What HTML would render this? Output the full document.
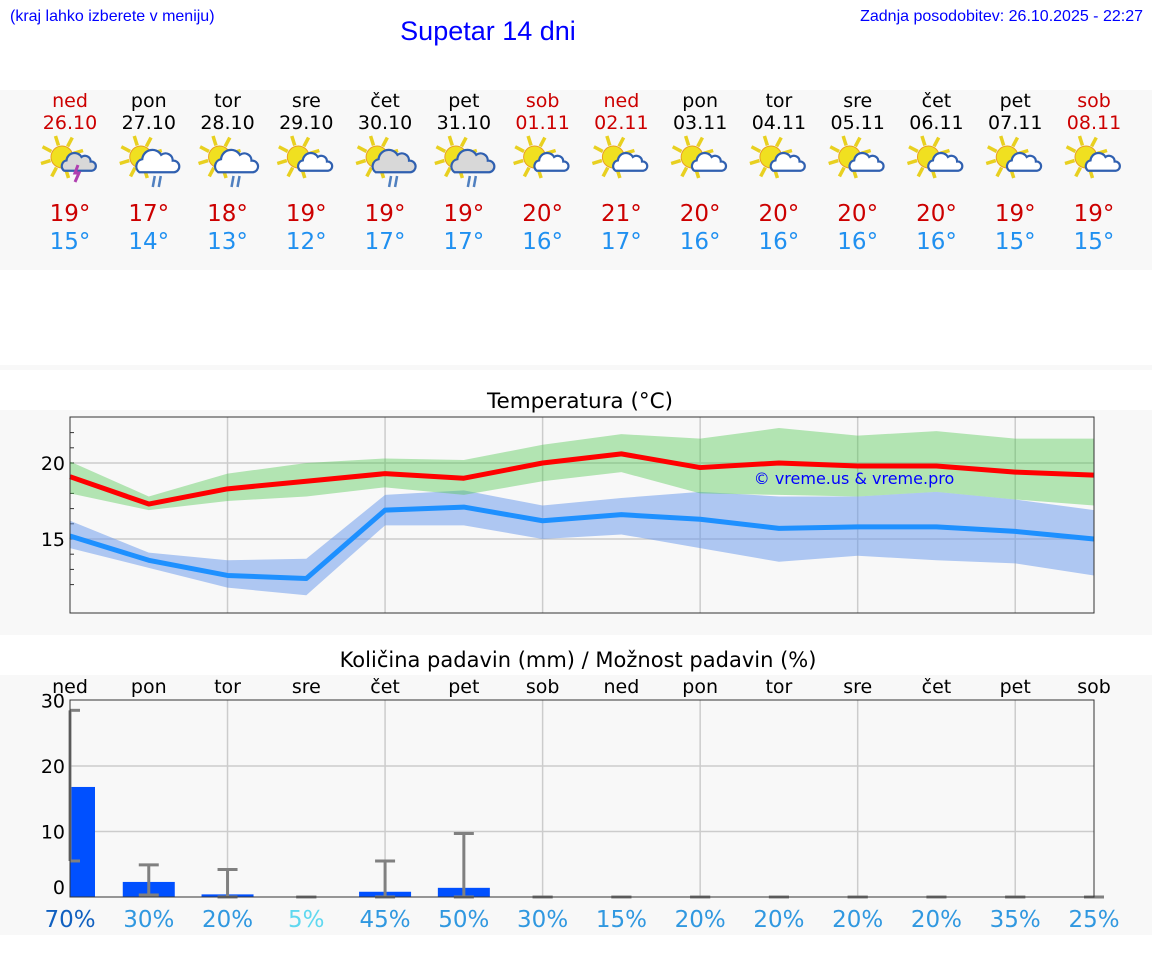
<!DOCTYPE html>
<html><head><meta charset="utf-8"><style>
body{margin:0;background:#fff;width:1152px;height:975px;overflow:hidden;font-family:"DejaVu Sans","Liberation Sans",sans-serif}
svg{position:absolute;left:0;top:0}
</style></head><body>
<svg id="s" width="1152" height="975" xmlns="http://www.w3.org/2000/svg">
<text x="10" y="21" font-size="16" fill="#0000ff" font-family="Liberation Sans">(kraj lahko izberete v meniju)</text>
<text x="488" y="40" font-size="27" fill="#0000ff" text-anchor="middle" font-family="Liberation Sans">Supetar 14 dni</text>
<text x="1143" y="21" font-size="16" fill="#0000ff" text-anchor="end" font-family="Liberation Sans">Zadnja posodobitev: 26.10.2025 - 22:27</text>
<rect x="0" y="90" width="1152" height="180" fill="#f8f8f8"/>
<rect x="0" y="365" width="1152" height="5" fill="#f8f8f8"/>
<rect x="0" y="410" width="1152" height="225" fill="#f8f8f8"/>
<rect x="0" y="675" width="1152" height="260" fill="#f8f8f8"/>
<text x="580" y="408" font-size="21.5" text-anchor="middle" fill="#000">Temperatura (°C)</text>
<text x="578" y="667" font-size="21" text-anchor="middle" fill="#000">Količina padavin (mm) / Možnost padavin (%)</text>
<g id="g"></g>
</svg>
<script>
const days=["ned","pon","tor","sre","čet","pet","sob","ned","pon","tor","sre","čet","pet","sob"];
const dates=["26.10","27.10","28.10","29.10","30.10","31.10","01.11","02.11","03.11","04.11","05.11","06.11","07.11","08.11"];
const weekend=[1,0,0,0,0,0,1,1,0,0,0,0,0,1];
const icons=["storm","rain","rain","cloud","rainc","rainc","cloud","cloud","cloud","cloud","cloud","cloud","cloud","cloud"];
const hiT=[19,17,18,19,19,19,20,21,20,20,20,20,19,19];
const loT=[15,14,13,12,17,17,16,17,16,16,16,16,15,15];
const maxLine=[19.1,17.3,18.3,18.8,19.3,19.0,20.0,20.6,19.7,20.0,19.8,19.8,19.4,19.2];
const maxUp=[20.1,17.8,19.3,20.0,20.3,20.2,21.2,21.9,21.6,22.3,21.8,22.1,21.6,21.6];
const maxLo=[18.0,16.9,17.5,17.8,18.4,17.9,18.8,19.4,18.0,17.9,17.8,18.1,17.6,17.2];
const minLine=[15.2,13.6,12.6,12.4,16.9,17.1,16.2,16.6,16.3,15.7,15.8,15.8,15.5,15.0];
const minUp=[16.2,14.1,13.6,13.7,17.9,18.2,17.2,17.7,18.1,17.8,17.8,18.1,17.6,16.9];
const minLo=[14.4,13.1,11.8,11.3,15.9,15.9,15.0,15.3,14.4,13.5,13.9,13.6,13.4,12.6];
const rain=[16.8,2.3,0.4,0,0.8,1.4,0,0,0,0,0,0,0,0];
const errTop=[28.5,4.9,4.2,0,5.5,9.7,0,0,0,0,0,0,0,0];
const errBot=[5.5,0.3,0,0,0,0,0,0,0,0,0,0,0,0];
const prob=[70,30,20,5,45,50,30,15,20,20,20,20,35,25];
const tTicks=[15,20];
const pTicks=[0,10,20,30];

const NS="http://www.w3.org/2000/svg",g=document.getElementById('g');
function el(t,a,txt){const e=document.createElementNS(NS,t);for(const k in a)e.setAttribute(k,a[k]);if(txt!=null)e.textContent=txt;g.appendChild(e);return e;}
const X0=70,X1=1094,dx=(X1-X0)/13;
const xs=i=>X0+i*dx;
const ty=v=>463-(v-20)*15.2;
const py=v=>897-v*6.55;

days.forEach((d,i)=>{
  const c=weekend[i]?"#cc0000":"#000",x=xs(i);
  let e=el('text',{x:x,y:107,'font-size':19,'text-anchor':'middle',fill:c},d);
  
  e=el('text',{x:x,y:129,'font-size':19,'text-anchor':'middle',fill:c},dates[i]);
  
  const cx=x-6,cy=157,sx=cx-2;
  for(let k=0;k<8;k++){const a=k*Math.PI/4-0.3;
    e=el('line',{x1:sx+Math.cos(a)*12,y1:cy+Math.sin(a)*12,x2:sx+Math.cos(a)*22,y2:cy+Math.sin(a)*22,stroke:'#e8d020','stroke-width':3.5});
    }
  e=el('circle',{cx:sx,cy:cy,r:11,fill:'#f0e020',stroke:'#e8a020','stroke-width':1});
  
  const big=icons[i]!=="cloud"&&icons[i]!=="storm";
  const s=big?1.45:1.15,ox=cx+14,oy=cy+8;
  const p=`M${ox-12*s},${oy+5*s} a${5*s},${5*s} 0 0 1 ${2*s},${-9*s} a${7*s},${7*s} 0 0 1 ${13*s},${-3*s} a${5*s},${5*s} 0 0 1 ${8*s},${4*s} a${4*s},${4*s} 0 0 1 ${1*s},${8*s} z`;
  e=el('path',{d:p,fill:icons[i]==="rainc"||icons[i]==="storm"?'#d8d8d8':'#fff',stroke:'#3060b0','stroke-width':2.2});
  
  if(icons[i].startsWith('rain')){for(const o of [-2,4]){e=el('line',{x1:ox+o,y1:oy+11,x2:ox+o-2,y2:oy+22,stroke:'#5080c0','stroke-width':2.5});}}
  if(icons[i]==="storm"){e=el('path',{d:`M${ox},${oy} l-3,8 h4 l-4,9`,fill:'none',stroke:'#b040b0','stroke-width':3});}
  e=el('text',{x:x,y:221,'font-size':23,'text-anchor':'middle',fill:'#cc0000'},hiT[i]+"°");
  
  e=el('text',{x:x,y:249,'font-size':23,'text-anchor':'middle',fill:'#2090f0'},loT[i]+"°");
  
});

let e=el('rect',{x:X0,y:417,width:X1-X0,height:196,fill:'#f8f8f8'});

for(let i=2;i<13;i+=2){e=el('line',{x1:xs(i),y1:417,x2:xs(i),y2:613,stroke:'#ccc','stroke-width':1.5});}
tTicks.forEach(v=>{e=el('line',{x1:X0,y1:ty(v),x2:X1,y2:ty(v),stroke:'#ccc','stroke-width':1.5});
 e=el('text',{x:X0-5,y:ty(v)+7,'font-size':19,'text-anchor':'end',fill:'#000'},v);});
for(let v=12;v<=22;v++){e=el('line',{x1:X0,y1:ty(v),x2:X0+4,y2:ty(v),stroke:'#333'});}
function band(u,l,fill,name){let d=u.map((v,i)=>(i?'L':'M')+xs(i)+','+ty(v)).join('')+l.map((v,i)=>'L'+xs(13-i)+','+ty(l[13-i])).join('')+'Z';
 const e=el('path',{d:d,fill:fill});}
function line(a,c,name){const e=el('polyline',{points:a.map((v,i)=>xs(i)+','+ty(v)).join(' '),fill:'none',stroke:c,'stroke-width':5,'stroke-linejoin':'round'});}
band(minUp,minLo,'rgba(100,150,235,0.5)','min-temp-band');
band(maxUp,maxLo,'rgba(80,200,80,0.42)','max-temp-band');
line(minLine,'#1e90ff','min-temp-line');
line(maxLine,'#ff0000','max-temp-line');
e=el('text',{x:854,y:484,'font-size':16,'text-anchor':'middle',fill:'#0000ff'},'© vreme.us & vreme.pro');

e=el('rect',{x:X0,y:417,width:X1-X0,height:196,fill:'none',stroke:'#333'});


e=el('rect',{x:X0,y:700,width:X1-X0,height:197,fill:'#f8f8f8'});

for(let i=2;i<13;i+=2){e=el('line',{x1:xs(i),y1:700,x2:xs(i),y2:897,stroke:'#ccc','stroke-width':1.5});}
pTicks.forEach(v=>{if(v>0&&v<30){e=el('line',{x1:X0,y1:py(v),x2:X1,y2:py(v),stroke:'#ccc','stroke-width':1.5});}
 e=el('text',{x:X0-5,y:py(v)+(v==0?-3:7),'font-size':19,'text-anchor':'end',fill:'#000'},v);});
days.forEach((d,i)=>{const x=xs(i);
 e=el('text',{x:x,y:693,'font-size':19,'text-anchor':'middle',fill:'#000'},d);
 const x0=i==0?X0:x-26,w=i==0?25:52;
 if(rain[i]>0){e=el('rect',{x:x0,y:py(rain[i]),width:w,height:py(0)-py(rain[i]),fill:'#0050ff'});}
 const ex=x;
 e=el('line',{x1:ex,y1:py(errTop[i]),x2:ex,y2:py(errBot[i]),stroke:'#808080','stroke-width':3});
 e=el('line',{x1:ex-(i==0?0:10),y1:py(errTop[i]),x2:ex+10,y2:py(errTop[i]),stroke:'#808080','stroke-width':3});
 e=el('line',{x1:ex-(i==0?0:10),y1:py(errBot[i]),x2:ex+10,y2:py(errBot[i]),stroke:'#808080','stroke-width':3});
 const pc=prob[i]>=70?'#1060c0':prob[i]<=5?'#60d8f0':'#3098e0';
 e=el('text',{x:x,y:927,'font-size':23,'text-anchor':'middle',fill:pc},prob[i]+'%');
});
e=el('rect',{x:X0,y:700,width:X1-X0,height:197,fill:'none',stroke:'#333'});

</script>
</body></html>
